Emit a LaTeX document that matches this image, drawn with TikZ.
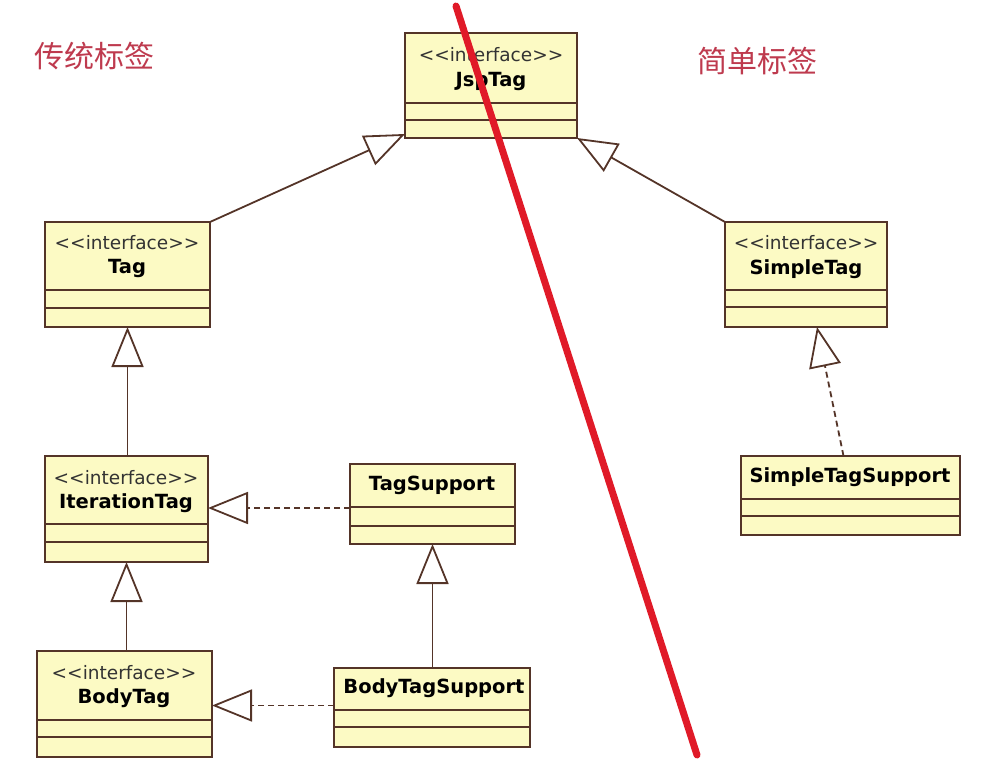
\documentclass[tikz,border=0pt]{standalone}
\usepackage{fontspec}
\setmainfont{DejaVu Sans}
\newfontfamily\cjk{Noto Sans CJK SC}
\usetikzlibrary{arrows.meta}
\definecolor{clsfill}{RGB}{252,250,196}
\definecolor{clsdraw}{RGB}{84,52,40}
\definecolor{cutred}{RGB}{224,26,40}
\definecolor{cnred}{RGB}{190,58,78}
\newcommand{\inh}{-{Triangle[open,length=40pt,width=32pt]}}
\newcommand{\stereo}{<{}<interface>{}>}
% class box: name, left, top, width, height, first and second separator (from top)
\newcommand{\umlbox}[7]{%
  \node[cls,anchor=north west,minimum width=#4pt,minimum height=#5pt] (#1) at (#2,#3) {};
  \draw[clsdraw,line width=2.2pt] ([yshift=-#6pt]#1.north west) -- ([yshift=-#6pt]#1.north east);
  \draw[clsdraw,line width=2.2pt] ([yshift=-#7pt]#1.north west) -- ([yshift=-#7pt]#1.north east);
}

\begin{document}
\begin{tikzpicture}[x=1pt,y=-1pt,
  cls/.style={draw=clsdraw,fill=clsfill,line width=2.2pt,inner sep=0pt,outer sep=0pt},
  stype/.style={font=\fontsize{18.5}{19}\selectfont,text=black!80},
  cname/.style={font=\fontsize{19.5}{20}\selectfont\bfseries,text=black},
  link/.style={draw=clsdraw,line width=1.8pt},
  real/.style={link,dash pattern=on 6pt off 4pt},
  cnlabel/.style={font=\cjk\fontsize{30}{32}\selectfont,text=cnred}]
\useasboundingbox (0,0) rectangle (1008,770);
%classes
\umlbox{jsp}{405}{33}{172}{105}{70}{87}
\umlbox{tag}{45}{222}{165}{105}{68}{86}
\umlbox{iter}{45}{456}{163}{106}{68}{86}
\umlbox{tagsup}{350}{464}{165}{80}{43}{62}
\umlbox{body}{37}{651}{175}{106}{69}{86}
\umlbox{bodysup}{334}{668}{196}{79}{42}{59}
\umlbox{simple}{725}{222}{162}{105}{68}{85}
\umlbox{simplesup}{741}{456}{219}{79}{43}{60}
%texts
\node[stype] (jsp-s) at (491,55) {\stereo};
\node[cname] (jsp-n) at (491,81) {JspTag};
\node[stype] (tag-s) at (127,243) {\stereo};
\node[cname] (tag-n) at (127,268) {Tag};
\node[stype] (iter-s) at (126,478) {\stereo};
\node[cname] (iter-n) at (126,503) {IterationTag};
\node[cname] (tagsup-n) at (432,485) {TagSupport};
\node[stype] (body-s) at (124,673) {\stereo};
\node[cname] (body-n) at (124,698) {BodyTag};
\node[cname] (bodysup-n) at (434,688) {BodyTagSupport};
\node[stype] (simple-s) at (806,243) {\stereo};
\node[cname] (simple-n) at (806,269) {SimpleTag};
\node[cname] (simplesup-n) at (850,477) {SimpleTagSupport};
%generalization
\draw[link,\inh] (tag.north east) -- ([yshift=4pt]jsp.south west);
\draw[link,\inh] (simple.north west) -- (jsp.south east);
\draw[link,\inh] (iter.north -| tag.south) -- (tag.south);
\draw[link,\inh] (body.north -| iter.south) -- (iter.south);
\draw[link,\inh] (bodysup.north -| tagsup.south) -- (tagsup.south);
%realization
\draw[real,\inh] ([yshift=-4pt]tagsup.west) -- ([yshift=-4pt]tagsup.west -| iter.east);
\draw[real,\inh] ([yshift=2pt]bodysup.west) -- ([yshift=2pt]bodysup.west -| body.east);
\draw[real,\inh] ([xshift=-7pt]simplesup.north) -- ([xshift=11pt]simple.south);
%labels
\node[cnlabel] (trad) at (94,56) {传统标签};
\node[cnlabel] (simp) at (757,61) {简单标签};
%cut
\coordinate (cutA) at (456,6);
\coordinate (cutB) at (697,755);
\draw[cutred,line width=7pt,line cap=round] (cutA) -- (cutB);
\end{tikzpicture}
\end{document}
